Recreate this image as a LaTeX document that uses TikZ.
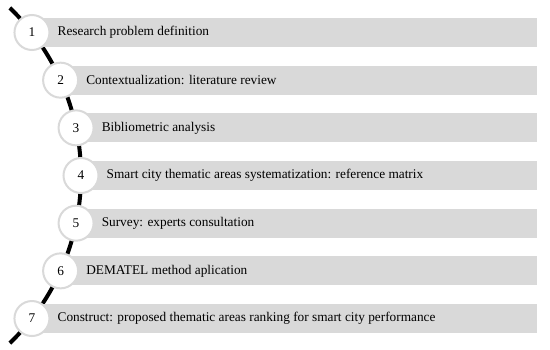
\documentclass[tikz,border=0pt]{standalone}
\usepackage{fontspec}
\setmainfont{Liberation Serif}
\usepackage{xcolor}

\begin{document}
\begin{tikzpicture}[x=10pt, y=10pt, font=\fontsize{13.3}{16}\selectfont]
	\def\R{23.3}
	\def\cx{-15.2}
	\def\cy{17.35}
	\def\dy{4.767}
	\def\xEnd{53.7}
	\useasboundingbox (0,0) rectangle (55,34.9);
	
	% the thick black guide line behind the steps
	\coordinate (arcTop) at ({\cx+\R*cos(46)},{\cy+\R*sin(46)});
	\draw[line width=4pt, black] (arcTop) arc[start angle=46, end angle=-46, radius=\R];
	
	\foreach \i/\txt in {1/Research problem definition,
		2/Contextualization: literature review,
		3/Bibliometric analysis,
		4/Smart city thematic areas systematization: reference matrix,
		5/Survey: experts consultation,
		6/DEMATEL method aplication,
		7/Construct: proposed thematic areas ranking for smart city performance} {
		\pgfmathsetmacro{\yRow}{31.65-(\i-1)*\dy}
		\pgfmathsetmacro{\xRow}{\cx+sqrt(\R*\R-(\yRow-\cy)*(\yRow-\cy))}
		\fill[gray!30] (\xRow,\yRow-1.45) rectangle (\xEnd,\yRow+1.45);
		\node[circle, draw=gray!30, line width=2pt, fill=white, minimum size=35pt, inner sep=0pt] (n\i) at (\xRow,\yRow) {\i};
		\node[anchor=west, inner sep=0pt] (t\i) at (\xRow+2.55,\yRow) {\txt};
	}
\end{tikzpicture}
\end{document}
